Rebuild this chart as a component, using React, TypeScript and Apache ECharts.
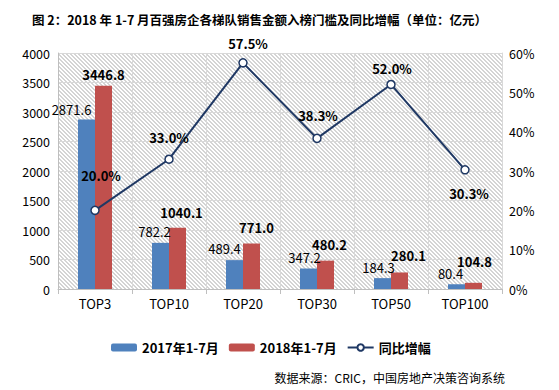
import React, { useEffect, useRef } from "react";
import * as echarts from "echarts";

const categories = ["TOP3", "TOP10", "TOP20", "TOP30", "TOP50", "TOP100"];
const sales2017 = [2871.6, 782.2, 489.4, 347.2, 184.3, 80.4];
const sales2018 = [3446.8, 1040.1, 771.0, 480.2, 280.1, 104.8];
const growth = [20.0, 33.0, 57.5, 38.3, 52.0, 30.3];

const seriesNames = ["2017年1-7月", "2018年1-7月", "同比增幅"];
const titleText = "图 2：2018 年 1-7 月百强房企各梯队销售金额入榜门槛及同比增幅（单位：亿元）";
const sourceText = "数据来源：CRIC，中国房地产决策咨询系统";

// label nudges (layout only)
const blueLabelOffsets = [[-15, 1], [-6, 0], [-10, 0], [-4, 0], [-4, 1], [-6, 1]];
const redLabelOffsets = [[0, 0], [4, -4], [5, -5], [4, -5], [9, -5], [1, -10]];
const lineLabelOffsets = [[6, -19], [0, -5], [5, -3], [1, -7], [1, 0], [4, 7]];
const lineLabelPositions = ["top", "top", "top", "top", "top", "bottom"];

const FONT = "'Noto Sans CJK SC', 'Noto Sans', sans-serif";

const GRID = { left: 58, right: 57, top: 53, bottom: 101 };
const W = 559;
const H = 390;

export default function App() {
  const ref = useRef<HTMLDivElement>(null);
  useEffect(() => {
    document.body.style.margin = "0";
    if (!ref.current) return;
    const chart = echarts.init(ref.current, null, { renderer: "svg" });

    const option: any = {
      animation: false,
      textStyle: { fontFamily: FONT },
      title: {
        text: titleText,
        left: 27,
        top: 8,
        textStyle: { fontSize: 12.5, fontWeight: "bold", color: "#000", fontFamily: FONT },
      },
      grid: { ...GRID, show: false },
      legend: {
        left: 106,
        top: 336,
        itemWidth: 26,
        itemHeight: 8,
        itemGap: 10,
        textStyle: { fontSize: 13, fontWeight: "bold", color: "#000", fontFamily: FONT },
        data: seriesNames,
      },
      xAxis: {
        type: "category",
        data: categories,
        axisLine: { lineStyle: { color: "#bfbfbf" } },
        axisTick: { show: true, length: 5, lineStyle: { color: "#bfbfbf" } },
        splitLine: { show: true, lineStyle: { color: "#d9d9d9" } },
        axisLabel: { color: "#000", fontSize: 13, margin: 8, fontFamily: FONT },
      },
      yAxis: [
        {
          type: "value",
          min: 0,
          max: 4000,
          interval: 500,
          axisLine: { show: true, lineStyle: { color: "#bfbfbf" } },
          axisTick: { show: false },
          splitLine: { show: true, lineStyle: { color: "#d9d9d9" } },
          axisLabel: {
            color: "#000",
            fontSize: 12.5,
            margin: 8,
            fontFamily: FONT,
            formatter: (v: number) => String(v),
          },
        },
        {
          type: "value",
          min: 0,
          max: 60,
          interval: 10,
          axisLine: { show: true, lineStyle: { color: "#d9d9d9" } },
          axisTick: { show: false },
          splitLine: { show: false },
          axisLabel: { color: "#000", fontSize: 12.5, margin: 7, formatter: "{value}%", fontFamily: FONT },
        },
      ],
      series: [
        {
          name: seriesNames[0],
          type: "bar",
          barWidth: 17,
          barGap: "0%",
          itemStyle: { color: "#4F81BD" },
          data: sales2017.map((v, i) => ({
            value: v,
            label: { offset: blueLabelOffsets[i] },
          })),
          label: {
            show: true,
            position: "top",
            color: "#000",
            fontSize: 13,
            fontFamily: FONT,
            formatter: (p: any) => Number(p.value).toFixed(1),
          },
        },
        {
          name: seriesNames[1],
          type: "bar",
          barWidth: 17,
          barGap: "0%",
          itemStyle: { color: "#C0504D" },
          data: sales2018.map((v, i) => ({
            value: v,
            label: { offset: redLabelOffsets[i] },
          })),
          label: {
            show: true,
            position: "top",
            color: "#000",
            fontSize: 13,
            fontWeight: "bold",
            fontFamily: FONT,
            formatter: (p: any) => Number(p.value).toFixed(1),
          },
        },
        {
          name: seriesNames[2],
          type: "line",
          yAxisIndex: 1,
          symbol: "circle",
          symbolSize: 8,
          lineStyle: { color: "#1F3864", width: 2 },
          itemStyle: { color: "#ffffff", borderColor: "#1F3864", borderWidth: 1.5 },
          data: growth.map((v, i) => ({
            value: v,
            label: { position: lineLabelPositions[i], offset: lineLabelOffsets[i] },
          })),
          label: {
            show: true,
            color: "#000",
            fontSize: 13,
            fontWeight: "bold",
            fontFamily: FONT,
            formatter: (p: any) => Number(p.value).toFixed(1) + "%",
          },
          z: 5,
        },
      ],
      graphic: [
        {
          type: "text",
          right: 54,
          top: 371,
          style: { text: sourceText, fontSize: 12, fill: "#000", fontFamily: FONT },
        },
      ],
    };
    chart.setOption(option);
    return () => chart.dispose();
  }, []);
  return (
    <div style={{ position: "relative", width: W, height: H, background: "#fff" }}>
      <div
        style={{
          position: "absolute",
          left: GRID.left,
          top: GRID.top,
          width: W - GRID.left - GRID.right,
          height: H - GRID.top - GRID.bottom,
          background:
            "repeating-linear-gradient(45deg, #ffffff 0px, #ffffff 1.6px, #d4d4d4 1.6px, #d4d4d4 2.83px)",
        }}
      />
      <div ref={ref} style={{ position: "absolute", left: 0, top: 0, width: W, height: H }} />
    </div>
  );
}
